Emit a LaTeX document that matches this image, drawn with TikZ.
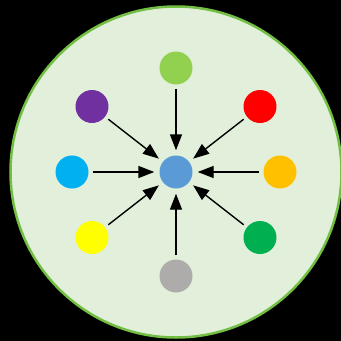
\documentclass[tikz,border=0pt]{standalone}
\usetikzlibrary{arrows.meta}
\definecolor{bgfill}{HTML}{E2EFDA}
\definecolor{bgline}{HTML}{72BF44}
\definecolor{cblue}{HTML}{5B9BD5}
\definecolor{clime}{HTML}{92D050}
\definecolor{cpurple}{HTML}{7030A0}
\definecolor{cred}{HTML}{FF0000}
\definecolor{ccyan}{HTML}{00B0F0}
\definecolor{corange}{HTML}{FFC000}
\definecolor{cyellow}{HTML}{FFFF00}
\definecolor{cgreen}{HTML}{00B050}
\definecolor{cgray}{HTML}{AEABAB}
\begin{document}
\begin{tikzpicture}[x=1pt,y=-1pt,
  dot/.style={circle,inner sep=0pt,minimum size=33pt,draw=none},
  conn/.style={line width=1.4pt,-{Triangle[length=16pt,width=12pt]},shorten <=4pt,shorten >=5pt}]
\fill[black] (0,0) rectangle (341,341);
\useasboundingbox (0,0) rectangle (341,341);
\draw[bgline,fill=bgfill,line width=2.5pt] (176,172) circle (165.5);
\node[dot,fill=cblue] (c) at (176,172) {};
\node[dot,fill=clime] (n) at (176,68) {};
\node[dot,fill=cpurple] (nw) at (92,106.5) {};
\node[dot,fill=cred] (ne) at (260,106.5) {};
\node[dot,fill=ccyan] (w) at (72,172) {};
\node[dot,fill=corange] (e) at (280,172) {};
\node[dot,fill=cyellow] (sw) at (92,237.5) {};
\node[dot,fill=cgreen] (se) at (260,237.5) {};
\node[dot,fill=cgray] (s) at (176,276) {};
\foreach \a in {n,nw,ne,w,e,sw,se,s}{\draw[conn] (\a) -- (c);}
\end{tikzpicture}
\end{document}
